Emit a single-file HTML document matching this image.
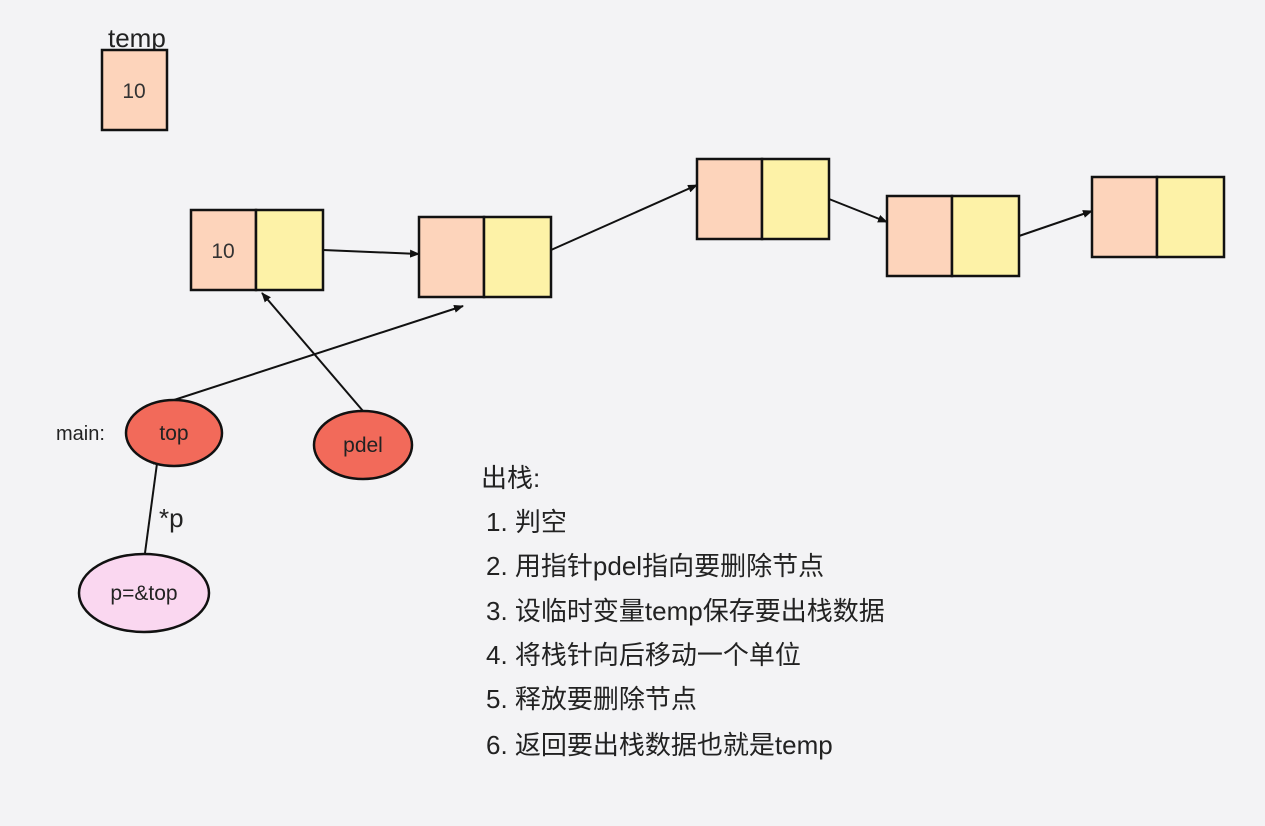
<!DOCTYPE html>
<html><head><meta charset="utf-8"><style>
html,body{margin:0;padding:0;background:#f3f3f5;}
svg{display:block;font-family:"Liberation Sans","Noto Sans CJK SC",sans-serif;}
</style></head><body>
<svg width="1265" height="826" viewBox="0 0 1265 826" xmlns="http://www.w3.org/2000/svg">
<defs><marker id="a" markerWidth="10" markerHeight="8" refX="9" refY="4" orient="auto" markerUnits="userSpaceOnUse"><path d="M0,0 L10,4 L0,8 z" fill="#111"/></marker></defs>
<rect width="1265" height="826" fill="#f3f3f5"/>
<text x="108" y="47" font-size="26" fill="#222">temp</text>
<rect x="102" y="50" width="65" height="80" fill="#fdd4bb" stroke="#111" stroke-width="2.5"/>
<text x="134" y="98" font-size="21" fill="#333" text-anchor="middle">10</text>
<g stroke="#111" stroke-width="2.5">
<rect x="191" y="210" width="65" height="80" fill="#fdd4bb"/><rect x="256" y="210" width="67" height="80" fill="#fdf2a7"/>
<rect x="419" y="217" width="65" height="80" fill="#fdd4bb"/><rect x="484" y="217" width="67" height="80" fill="#fdf2a7"/>
<rect x="697" y="159" width="65" height="80" fill="#fdd4bb"/><rect x="762" y="159" width="67" height="80" fill="#fdf2a7"/>
<rect x="887" y="196" width="65" height="80" fill="#fdd4bb"/><rect x="952" y="196" width="67" height="80" fill="#fdf2a7"/>
<rect x="1092" y="177" width="65" height="80" fill="#fdd4bb"/><rect x="1157" y="177" width="67" height="80" fill="#fdf2a7"/>
</g>
<text x="223" y="258" font-size="21" fill="#333" text-anchor="middle">10</text>
<g stroke="#111" stroke-width="2" fill="none" marker-end="url(#a)">
<line x1="323" y1="250" x2="419" y2="254"/>
<line x1="551" y1="250" x2="697" y2="185"/>
<line x1="829" y1="199" x2="887" y2="222"/>
<line x1="1019" y1="236" x2="1092" y2="211"/>
<line x1="174" y1="400" x2="463" y2="306"/>
<line x1="363" y1="411" x2="262" y2="293"/>
<line x1="145" y1="553" x2="158" y2="456"/>
</g>
<ellipse cx="174" cy="433" rx="48" ry="33" fill="#f26a5a" stroke="#111" stroke-width="2.5"/>
<text x="174" y="440" font-size="21" fill="#222" text-anchor="middle">top</text>
<text x="56" y="440" font-size="20" fill="#222">main:</text>
<ellipse cx="363" cy="445" rx="49" ry="34" fill="#f26a5a" stroke="#111" stroke-width="2.5"/>
<text x="363" y="452" font-size="21" fill="#222" text-anchor="middle">pdel</text>
<ellipse cx="144" cy="593" rx="65" ry="39" fill="#fad7f0" stroke="#111" stroke-width="2.5"/>
<text x="144" y="600" font-size="21" fill="#222" text-anchor="middle">p=&amp;top</text>
<text x="159" y="527" font-size="26" fill="#222">*p</text>
<g font-size="26" fill="#222">
<text x="481" y="487">出栈:</text>
<text x="486" y="531">1. 判空</text>
<text x="486" y="575">2.  用指针pdel指向要删除节点</text>
<text x="486" y="620">3.  设临时变量temp保存要出栈数据</text>
<text x="486" y="664">4.  将栈针向后移动一个单位</text>
<text x="486" y="708">5.  释放要删除节点</text>
<text x="486" y="754">6.  返回要出栈数据也就是temp</text>
</g>
</svg>
</body></html>
